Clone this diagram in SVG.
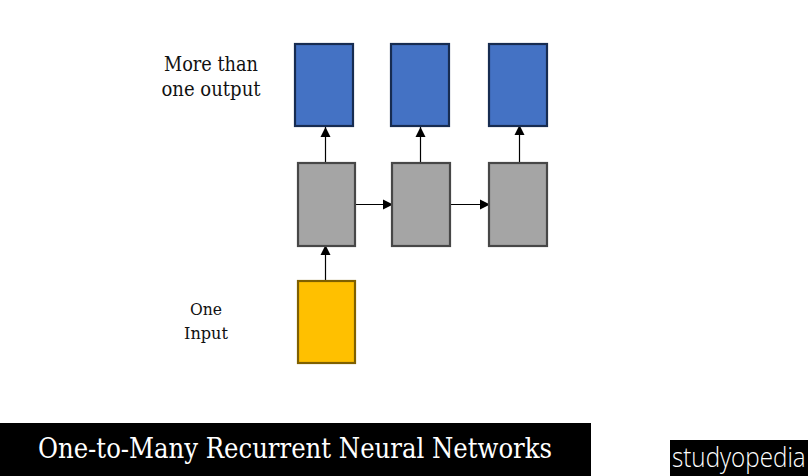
<svg xmlns="http://www.w3.org/2000/svg" width="808" height="476" viewBox="0 0 808 476">
<style>
.blue{fill:#4472c4;stroke:#172c51;stroke-width:2.2}
.gray{fill:#a5a5a5;stroke:#474747;stroke-width:2.2}
.gold{fill:#ffc000;stroke:#7f6000;stroke-width:2.2}
.lbl{font-family:"DejaVu Serif Condensed","DejaVu Serif","Liberation Serif",serif;fill:#111;text-anchor:middle}
.c{stroke:#000;stroke-width:1.2;fill:none;marker-end:url(#a)}
</style>
<defs><marker id="a" markerUnits="userSpaceOnUse" markerWidth="11" markerHeight="11" refX="10" refY="5.5" orient="auto"><path d="M0 0.5L10 5.5L0 10.5Z" fill="#000"/></marker></defs>
<rect width="808" height="476" fill="#fff"/>
<g id="connectors">
<path class="c" d="M325.5 163V127"/>
<path class="c" d="M420.5 163V127"/>
<path class="c" d="M519.5 162V125"/>
<path class="c" d="M355 204.5H393"/>
<path class="c" d="M451 204.5H490"/>
<path class="c" d="M325.5 281V245"/>
</g>
<g id="output1"><rect class="blue" x="295" y="44" width="58" height="82"/></g>
<g id="output2"><rect class="blue" x="391" y="44" width="58" height="82"/></g>
<g id="output3"><rect class="blue" x="489" y="44" width="58" height="82"/></g>
<g id="hidden1"><rect class="gray" x="298" y="163" width="57" height="83"/></g>
<g id="hidden2"><rect class="gray" x="392" y="163" width="58" height="83"/></g>
<g id="hidden3"><rect class="gray" x="489" y="163" width="58" height="83"/></g>
<g id="input"><rect class="gold" x="298" y="281" width="57" height="82"/></g>
<g id="label-output"><text class="lbl" font-size="19.5" x="211" y="71" textLength="94" lengthAdjust="spacingAndGlyphs">More than</text><text class="lbl" font-size="19.5" x="211" y="96" textLength="99" lengthAdjust="spacingAndGlyphs">one output</text></g>
<g id="label-input"><text class="lbl" font-size="16" x="206" y="315" textLength="32" lengthAdjust="spacingAndGlyphs">One</text><text class="lbl" font-size="16" x="206" y="339" textLength="44" lengthAdjust="spacingAndGlyphs">Input</text></g>
<g id="title"><rect x="0" y="423" width="591" height="53" fill="#000"/><text font-family="'DejaVu Serif Condensed','DejaVu Serif','Liberation Serif',serif" font-size="27" fill="#fff" x="38" y="458" textLength="514" lengthAdjust="spacingAndGlyphs">One-to-Many Recurrent Neural Networks</text></g>
<g id="brand"><rect x="670" y="440" width="138" height="36" fill="#000"/><text font-family="'Open Sans','Liberation Sans',sans-serif" font-size="28" font-weight="300" fill="#fff" transform="translate(672 467) scale(.864 1)">studyopedia</text></g>
</svg>
